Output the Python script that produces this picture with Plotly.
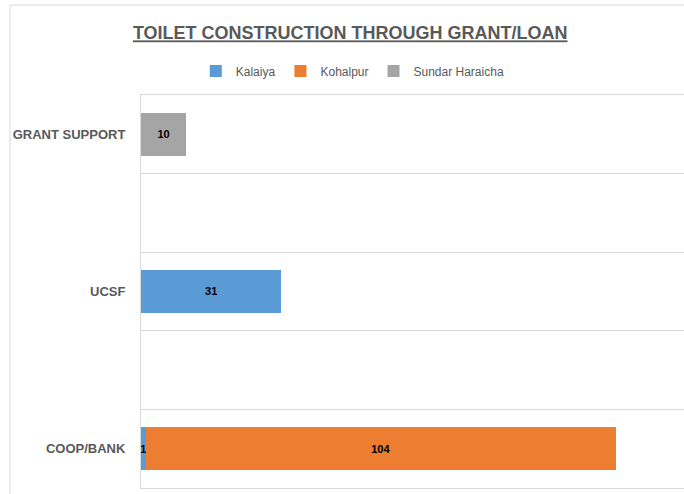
import plotly.graph_objects as go

categories = ["COOP/BANK", " ", "UCSF", "  ", "GRANT SUPPORT"]
kalaiya = [1, None, 31, None, None]
kohalpur = [104, None, None, None, None]
sundar_haraicha = [None, None, None, None, 10]

series = [
    ("Kalaiya", kalaiya, "#5B9BD5"),
    ("Kohalpur", kohalpur, "#ED7D31"),
    ("Sundar Haraicha", sundar_haraicha, "#A5A5A5"),
]

FONT = "Liberation Sans, Arial, sans-serif"
GRAY = "#595959"
LINE = "#d9d9d9"

fig = go.Figure()
for name, vals, color in series:
    fig.add_trace(go.Bar(
        y=categories, x=vals, name=name, orientation="h",
        marker=dict(color=color, line=dict(width=0)),
        width=0.55,
        text=[("" if v is None else str(v)) for v in vals],
        textposition="inside", insidetextanchor="middle",
        constraintext="none",
        textfont=dict(family=FONT, size=11, color="black", weight="bold"),
    ))

fig.update_layout(
    barmode="stack",
    width=684, height=494,
    margin=dict(l=141, r=0, t=95, b=6),
    paper_bgcolor="white", plot_bgcolor="white",
    title=dict(
        text="<b>TOILET CONSTRUCTION THROUGH GRANT/LOAN</b>",
        x=0.512, xanchor="center", y=0.933, yanchor="middle",
        font=dict(family=FONT, size=18, color=GRAY, lineposition="under"),
    ),
    legend=dict(
        orientation="h", x=0.39, xanchor="center", y=1.061, yanchor="middle",
        font=dict(family=FONT, size=12, color=GRAY),
        itemwidth=30, traceorder="normal", tracegroupgap=0,
    ),
    showlegend=True,
    xaxis=dict(range=[0, 120], showgrid=False, showticklabels=False,
               zeroline=False, showline=True, linecolor=LINE, mirror=True,
               automargin=False),
    yaxis=dict(categoryorder="array", categoryarray=categories,
               range=[-0.5, 4.5], tickson="boundaries", showgrid=True,
               gridcolor=LINE, gridwidth=1, showline=True, linecolor=LINE,
               ticks="", ticklabelstandoff=12, automargin=False,
               tickfont=dict(family=FONT, size=13, color=GRAY, weight="bold")),
    shapes=[dict(type="rect", xref="paper", yref="paper",
                 x0=(10 - 141) / 543, x1=1.05, y0=-0.1, y1=(488 - 5) / 393,
                 line=dict(color=LINE, width=1), fillcolor="rgba(0,0,0,0)",
                 layer="below")],
)

fig.write_html(
    "out.html",
    config={"displayModeBar": False},
    post_script="document.body.style.margin='0';document.body.style.overflow='hidden';",
)
